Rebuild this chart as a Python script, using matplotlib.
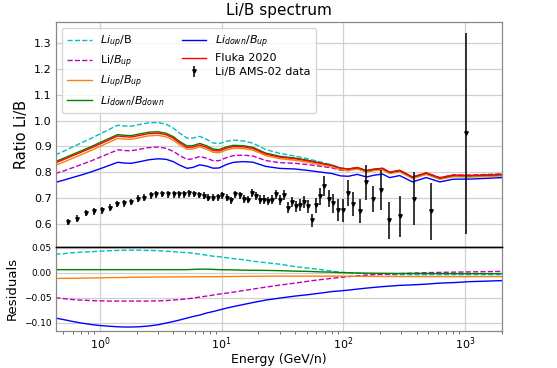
import numpy as np
import matplotlib
matplotlib.use("Agg")
import matplotlib.pyplot as plt

# energy grid for model curves (GeV/n)
energy = [0.43, 0.5, 0.6, 0.7, 0.85, 1.0, 1.2, 1.4, 1.6, 1.8, 2.1, 2.5, 3.0, 3.5,
          4.0, 4.5, 5.2, 5.8, 6.6, 7.5, 8.5, 9.5, 11, 12.5, 15, 18, 23, 30, 40, 52,
          65, 80, 95, 110, 130, 155, 180, 210, 240, 290, 370, 480, 620, 800, 1100,
          1500, 2000]

# Fluka 2020 Li/B
fluka = [0.836, 0.848, 0.864, 0.877, 0.894, 0.909, 0.926, 0.940, 0.937, 0.936, 0.942,
         0.949, 0.951, 0.945, 0.932, 0.914, 0.896, 0.897, 0.905, 0.896, 0.884, 0.882,
         0.893, 0.899, 0.898, 0.892, 0.870, 0.858, 0.852, 0.843, 0.834, 0.826, 0.815,
         0.812, 0.818, 0.806, 0.812, 0.815, 0.800, 0.807, 0.781, 0.797, 0.778, 0.788,
         0.787, 0.789, 0.791]

# residuals relative to Fluka 2020
res_liup_b = [0.037, 0.038, 0.040, 0.041, 0.042, 0.043, 0.044, 0.0445, 0.045, 0.045,
              0.045, 0.0445, 0.044, 0.043, 0.042, 0.041, 0.040, 0.039, 0.037, 0.035,
              0.033, 0.032, 0.030, 0.028, 0.026, 0.023, 0.020, 0.017, 0.012, 0.009,
              0.006, 0.003, 0.001, 0.0, -0.001, -0.002, -0.003, -0.003, -0.004, -0.004,
              -0.004, -0.004, -0.004, -0.004, -0.004, -0.004, -0.004]
res_li_bup = [-0.050, -0.052, -0.054, -0.055, -0.056, -0.0565, -0.057, -0.057, -0.057,
              -0.057, -0.057, -0.057, -0.0565, -0.056, -0.055, -0.054, -0.0525, -0.051,
              -0.049, -0.047, -0.045, -0.043, -0.041, -0.039, -0.036, -0.033, -0.029,
              -0.025, -0.021, -0.017, -0.014, -0.0115, -0.0095, -0.008, -0.0065, -0.005,
              -0.004, -0.0035, -0.003, -0.002, -0.001, 0.0, 0.0005, 0.001, 0.0015, 0.002,
              0.0025]
res_liup_bup = [-0.0115, -0.0115, -0.0113, -0.011, -0.0107, -0.0104, -0.010, -0.0098,
                -0.0096, -0.0094, -0.0092, -0.009, -0.0088, -0.0087, -0.0086, -0.0085,
                -0.0084, -0.0083, -0.0082, -0.0081, -0.0081, -0.008, -0.0078, -0.0077,
                -0.0075, -0.0073, -0.0071, -0.007, -0.007, -0.007, -0.007, -0.007, -0.007,
                -0.0072, -0.0073, -0.0074, -0.0075, -0.0076, -0.0077, -0.0078, -0.0078,
                -0.0079, -0.008, -0.008, -0.008, -0.008, -0.008]
res_lidown_bdown = [0.006, 0.006, 0.006, 0.006, 0.006, 0.006, 0.006, 0.006, 0.006, 0.006,
                    0.006, 0.006, 0.006, 0.006, 0.006, 0.006, 0.006, 0.0065, 0.007, 0.007,
                    0.0065, 0.006, 0.0057, 0.0055, 0.005, 0.0048, 0.0045, 0.004, 0.003,
                    0.0025, 0.0015, 0.001, 0.0, -0.0003, -0.0008, -0.001, -0.0012, -0.0013,
                    -0.0015, -0.0016, -0.0017, -0.0018, -0.0019, -0.002, -0.002, -0.002,
                    -0.002]
res_lidown_bup = [-0.091, -0.094, -0.098, -0.101, -0.104, -0.106, -0.1075, -0.1085, -0.109,
                  -0.109, -0.1085, -0.107, -0.1045, -0.101, -0.098, -0.095, -0.091, -0.088,
                  -0.085, -0.081, -0.078, -0.075, -0.071, -0.068, -0.064, -0.060, -0.055,
                  -0.051, -0.047, -0.044, -0.041, -0.038, -0.0365, -0.035, -0.033, -0.031,
                  -0.0295, -0.028, -0.027, -0.0255, -0.0245, -0.023, -0.021, -0.020,
                  -0.018, -0.017, -0.016]

# AMS-02 Li/B data
ams_e = [0.543, 0.647, 0.767, 0.90, 1.04, 1.21, 1.38, 1.58, 1.81, 2.05, 2.31, 2.61, 2.9,
         3.23, 3.62, 4.03, 4.43, 4.9, 5.39, 5.92, 6.51, 7.1, 7.76, 8.53, 9.3, 10.1, 11.0,
         11.9, 12.9, 14.1, 15.2, 16.4, 17.7, 19.2, 20.8, 22.4, 24.1, 26.0, 28.1, 30.3,
         32.7, 34.8, 38.0, 40.8, 44.0, 47.5, 51.0, 54.9, 59.2, 63.9, 69.3, 75.7, 82.2,
         90.3, 99.3, 110, 121, 136, 153, 175, 202, 238, 290, 378, 527, 1023]
ams_ratio = [0.606, 0.619, 0.641, 0.647, 0.652, 0.661, 0.676, 0.678, 0.684, 0.696, 0.700,
             0.710, 0.713, 0.715, 0.713, 0.713, 0.713, 0.713, 0.717, 0.715, 0.711, 0.708,
             0.701, 0.701, 0.702, 0.710, 0.700, 0.691, 0.713, 0.709, 0.696, 0.693, 0.719,
             0.706, 0.693, 0.693, 0.688, 0.693, 0.714, 0.691, 0.710, 0.662, 0.684, 0.667,
             0.671, 0.684, 0.667, 0.613, 0.671, 0.706, 0.746, 0.697, 0.678, 0.652, 0.652,
             0.720, 0.676, 0.648, 0.761, 0.694, 0.729, 0.613, 0.628, 0.697, 0.648, 0.950]
ams_err = [0.013, 0.013, 0.013, 0.013, 0.013, 0.013, 0.013, 0.013, 0.013, 0.013, 0.013,
           0.013, 0.013, 0.013, 0.013, 0.013, 0.013, 0.013, 0.013, 0.013, 0.013, 0.013,
           0.013, 0.013, 0.013, 0.014, 0.014, 0.014, 0.014, 0.014, 0.015, 0.015, 0.015,
           0.015, 0.016, 0.016, 0.016, 0.017, 0.017, 0.018, 0.019, 0.020, 0.021, 0.022,
           0.023, 0.024, 0.025, 0.026, 0.030, 0.034, 0.038, 0.033, 0.038, 0.043, 0.045,
           0.050, 0.047, 0.047, 0.068, 0.050, 0.078, 0.072, 0.080, 0.102, 0.110, 0.39]

E = np.array(energy)
F = np.array(fluka)

curves = [
    (res_liup_b, "c", "--", r"$Li_{up}$/B"),
    (res_li_bup, "m", "--", r"Li/$B_{up}$"),
    (res_liup_bup, "tab:orange", "-", r"$Li_{up}$/$B_{up}$"),
    (res_lidown_bdown, "green", "-", r"$Li_{down}$/$B_{down}$"),
    (res_lidown_bup, "blue", "-", r"$Li_{down}$/$B_{up}$"),
]

fig = plt.figure(figsize=(5.57, 3.68), dpi=100)
ax = fig.add_axes([0.1005, 0.3296, 0.8002, 0.6106])
axr = fig.add_axes([0.1005, 0.1005, 0.8002, 0.2291], sharex=ax)

for a in (ax, axr):
    a.set_xscale("log")
    a.grid(True, which="major", color="#d0d0d0", linewidth=0.9)
    for s in a.spines.values():
        s.set_color("#888888")
        s.set_linewidth(0.9)
    a.set_axisbelow(True)

for res, col, ls, lab in curves:
    ax.plot(E, F * (1 + np.array(res)), color=col, ls=ls, lw=1.0, label=lab)
ax.plot(E, F, color="red", lw=1.0, label="Fluka 2020")
ax.errorbar(ams_e, ams_ratio, yerr=ams_err, fmt="v", color="black", ms=2.5,
            elinewidth=1.1, capsize=0, label="Li/B AMS-02 data")

for res, col, ls, lab in curves:
    axr.plot(E, res, color=col, ls=ls, lw=1.0)

ax.set_xlim(0.435, 2000)
ax.set_ylim(0.51, 1.383)
ax.set_yticks([0.6, 0.7, 0.8, 0.9, 1.0, 1.1, 1.2, 1.3])
ax.tick_params(axis="y", labelsize=8, length=0, pad=3)
ax.tick_params(axis="x", which="both", labelbottom=False, length=0)
ax.spines["bottom"].set_color("black")
ax.spines["bottom"].set_linewidth(1.0)
ax.set_ylabel("Ratio Li/B", fontsize=10.5)
ax.set_title("Li/B spectrum", fontsize=11, pad=5)

axr.set_ylim(-0.117, 0.052)
axr.set_yticks([-0.10, -0.05, 0.00, 0.05])
axr.tick_params(axis="y", labelsize=6.5, length=0, pad=3)
axr.tick_params(axis="x", which="major", labelsize=8, length=0, pad=3)
axr.tick_params(axis="x", which="minor", length=2, width=0.6, color="#555555")
axr.spines["top"].set_color("black")
axr.spines["top"].set_linewidth(1.0)
axr.set_ylabel("Residuals", fontsize=9.5)
axr.set_xlabel("Energy (GeV/n)", fontsize=9, labelpad=1)

ax.legend(loc="upper left", ncol=2, fontsize=8, frameon=True, framealpha=0.8,
          edgecolor="#cccccc", handlelength=2.2, columnspacing=1.5, borderpad=0.5,
          labelspacing=0.35)

fig.savefig("out.png", dpi=100)
